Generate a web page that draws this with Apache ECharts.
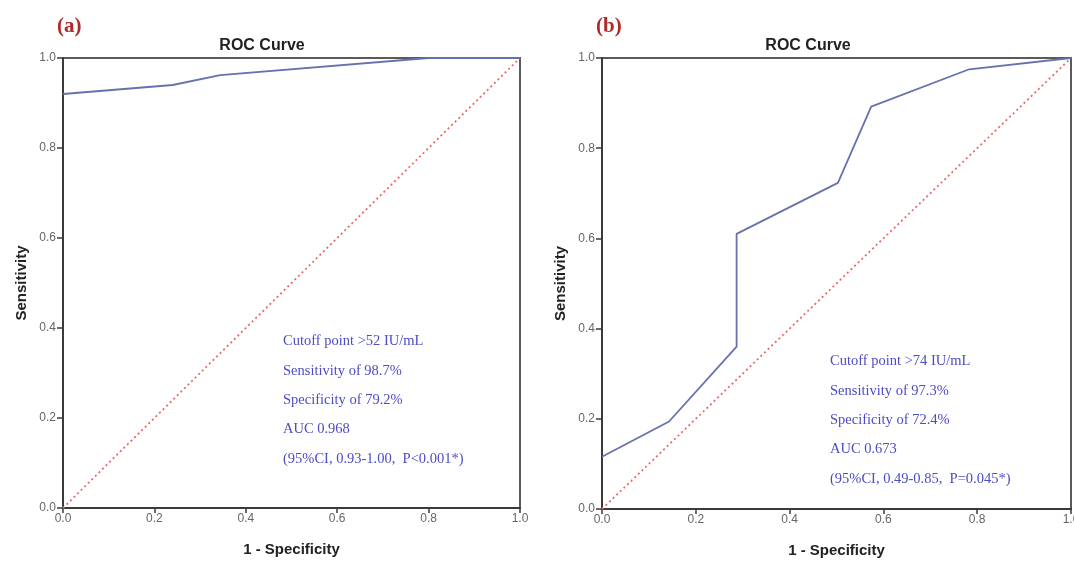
<!DOCTYPE html>
<html>
<head>
<meta charset="utf-8">
<script src="https://cdn.jsdelivr.net/npm/echarts@6/dist/echarts.min.js"></script>
<style>
  html, body { margin: 0; padding: 0; background: #fff; }
  #chart { width: 1074px; height: 562px; }
</style>
</head>
<body>
<div id="chart"></div>
<script>
// Panel (a): ROC curve points (1 - specificity, sensitivity)
const fprA = [0, 0.24, 0.344, 0.8, 1];
const tprA = [0.92, 0.94, 0.962, 1, 1];

// Panel (b): ROC curve points
const fprB = [0, 0.143, 0.287, 0.287, 0.503, 0.574, 0.783, 1];
const tprB = [0.116, 0.194, 0.36, 0.61, 0.723, 0.892, 0.975, 1];

// Reference (chance) diagonal
const diagX = [0, 1];
const diagY = [0, 1];

const tickLabels = ['0.0', '0.2', '0.4', '0.6', '0.8', '1.0'];
const panelTags = ['(a)', '(b)'];
const chartTitle = 'ROC Curve';
const xName = '1 - Specificity';
const yName = 'Sensitivity';

const notesA = [
  'Cutoff point >52 IU/mL',
  'Sensitivity of 98.7%',
  'Specificity of 79.2%',
  'AUC 0.968',
  '(95%CI, 0.93-1.00,  P<0.001*)'
];
const notesB = [
  'Cutoff point >74 IU/mL',
  'Sensitivity of 97.3%',
  'Specificity of 72.4%',
  'AUC 0.673',
  '(95%CI, 0.49-0.85,  P=0.045*)'
];

const pairs = (xs, ys) => xs.map((x, i) => [x, ys[i]]);
const fmt = v => tickLabels[Math.round(v / 0.2)];

const curveColor = '#6572ae';
const diagColor = '#e86a66';
const noteColor = '#4c4cc4';

function xAxisFor(gridIndex) {
  return {
    type: 'value', gridIndex, min: 0, max: 1, interval: 0.2,
    name: xName, nameLocation: 'middle', nameGap: 34,
    nameTextStyle: { fontFamily: 'Liberation Sans', fontWeight: 'bold', fontSize: 15, color: '#222' },
    axisLine: { lineStyle: { color: '#3a3a3a', width: 2 } },
    axisTick: { show: true, length: 5, lineStyle: { color: '#3a3a3a', width: 1.5 } },
    axisLabel: { formatter: fmt, margin: 5, fontFamily: 'Liberation Sans', fontSize: 12, color: '#666' },
    splitLine: { show: false }
  };
}
function yAxisFor(gridIndex) {
  return {
    type: 'value', gridIndex, min: 0, max: 1, interval: 0.2,
    name: yName, nameLocation: 'middle', nameGap: 34,
    nameTextStyle: { fontFamily: 'Liberation Sans', fontWeight: 'bold', fontSize: 15, color: '#222' },
    axisLine: { lineStyle: { color: '#3a3a3a', width: 2 } },
    axisTick: { show: true, length: 6, lineStyle: { color: '#3a3a3a', width: 1.5 } },
    axisLabel: { formatter: fmt, margin: 7, fontFamily: 'Liberation Sans', fontSize: 12, color: '#666' },
    splitLine: { show: false }
  };
}

function noteTexts(lines, left, top, gap) {
  return lines.map((t, i) => ({
    type: 'text', left, top: top + i * gap,
    style: { text: t, fill: noteColor, font: '14.5px "Liberation Serif"' }
  }));
}

const chart = echarts.init(document.getElementById('chart'), null, { renderer: 'canvas' });
chart.setOption({
  backgroundColor: '#fff',
  animation: false,
  title: [
    { text: chartTitle, left: 257, top: 33, textAlign: 'center',
      textStyle: { fontFamily: 'Liberation Sans', fontWeight: 'bold', fontSize: 16, color: '#222' } },
    { text: chartTitle, left: 803, top: 33, textAlign: 'center',
      textStyle: { fontFamily: 'Liberation Sans', fontWeight: 'bold', fontSize: 16, color: '#222' } }
  ],
  grid: [
    { left: 63, top: 58, width: 457, height: 450, show: true, borderColor: '#5a5a5a', borderWidth: 2,
      outerBoundsMode: 'none', containLabel: false },
    { left: 602, top: 58, width: 469, height: 451, show: true, borderColor: '#5a5a5a', borderWidth: 2,
      outerBoundsMode: 'none', containLabel: false }
  ],
  xAxis: [xAxisFor(0), xAxisFor(1)],
  yAxis: [yAxisFor(0), yAxisFor(1)],
  series: [
    { type: 'line', xAxisIndex: 0, yAxisIndex: 0, data: pairs(diagX, diagY), symbol: 'none',
      lineStyle: { color: diagColor, width: 1.8, type: [2, 3] }, z: 2 },
    { type: 'line', xAxisIndex: 0, yAxisIndex: 0, data: pairs(fprA, tprA), symbol: 'none',
      lineStyle: { color: curveColor, width: 1.8 }, z: 3 },
    { type: 'line', xAxisIndex: 1, yAxisIndex: 1, data: pairs(diagX, diagY), symbol: 'none',
      lineStyle: { color: diagColor, width: 1.8, type: [2, 3] }, z: 2 },
    { type: 'line', xAxisIndex: 1, yAxisIndex: 1, data: pairs(fprB, tprB), symbol: 'none',
      lineStyle: { color: curveColor, width: 1.8 }, z: 3 }
  ],
  graphic: [
    { type: 'text', left: 57, top: 16,
      style: { text: panelTags[0], fill: '#b02a2a', font: 'bold 21px "Liberation Serif"' } },
    { type: 'text', left: 596, top: 16,
      style: { text: panelTags[1], fill: '#b02a2a', font: 'bold 21px "Liberation Serif"' } },
    ...noteTexts(notesA, 283, 334, 29.3),
    ...noteTexts(notesB, 830, 354, 29.3)
  ]
});
</script>
</body>
</html>
